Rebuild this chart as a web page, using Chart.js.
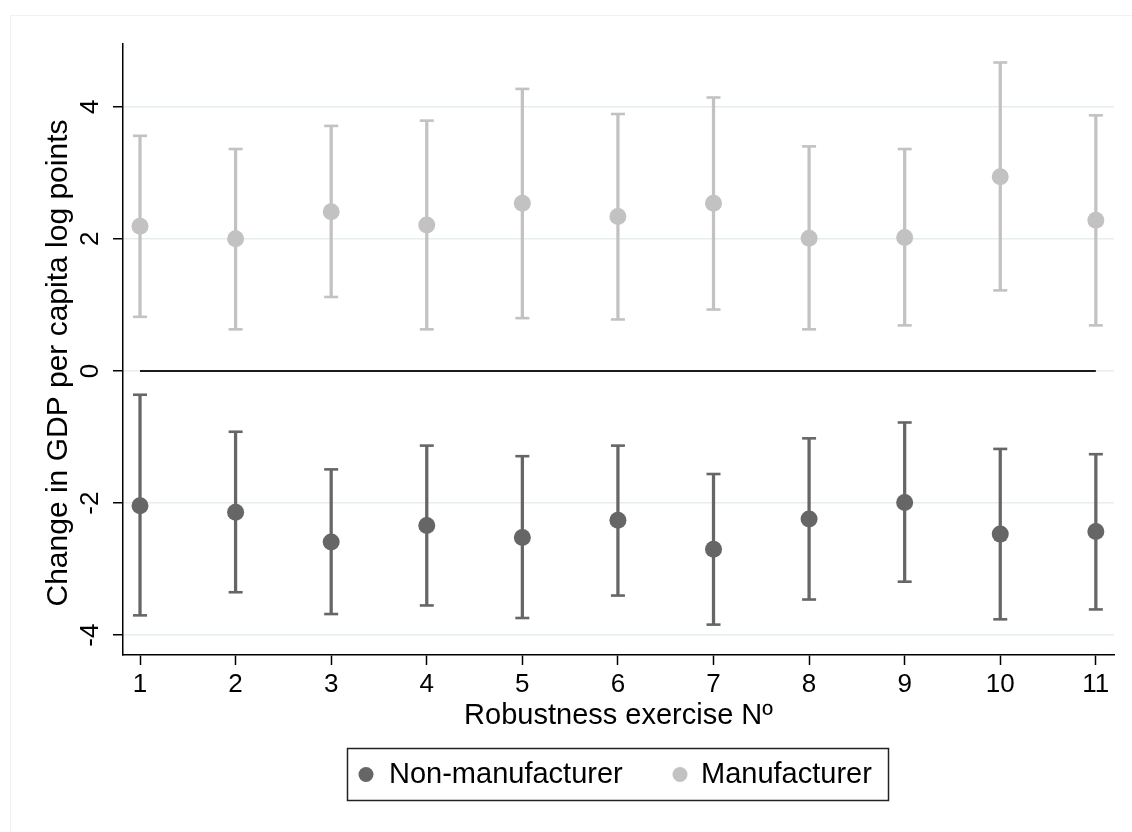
<!DOCTYPE html>
<html>
<head>
<meta charset="utf-8">
<title>Robustness exercises</title>
<script src="https://cdn.jsdelivr.net/npm/chart.js"></script>
<style>
  html, body { margin: 0; padding: 0; background: #fff; }
  canvas { display: block; }
</style>
</head>
<body>
<canvas id="robustChart" width="1132" height="832"></canvas>
<script>
// robustness exercises on the x axis
const exercise = [1, 2, 3, 4, 5, 6, 7, 8, 9, 10, 11];
const yTicks = [-4, -2, 0, 2, 4];

// manufacturer: point estimate and confidence band
const manuEst = [2.19, 2.00, 2.41, 2.21, 2.54, 2.34, 2.54, 2.01, 2.02, 2.94, 2.28];
const manuLo  = [0.82, 0.63, 1.12, 0.63, 0.80, 0.78, 0.93, 0.63, 0.69, 1.22, 0.69];
const manuHi  = [3.56, 3.36, 3.71, 3.79, 4.27, 3.89, 4.14, 3.40, 3.36, 4.67, 3.87];

// non-manufacturer
const nonEst = [-2.04, -2.14, -2.59, -2.34, -2.52, -2.26, -2.70, -2.24, -1.99, -2.47, -2.43];
const nonLo  = [-3.70, -3.35, -3.68, -3.55, -3.74, -3.40, -3.84, -3.46, -3.19, -3.76, -3.61];
const nonHi  = [-0.36, -0.92, -1.49, -1.13, -1.29, -1.13, -1.56, -1.02, -0.78, -1.18, -1.26];

const darkCol = '#666666';
const lightCol = '#c2c2c2';
const fontFam = "'Liberation Sans', Arial, Helvetica, sans-serif";
const yTitle = 'Change in GDP per capita log points';

Chart.defaults.font.family = fontFam;
Chart.defaults.color = '#000';

function points(est) {
  return exercise.map((x, i) => ({x: x, y: est[i]}));
}
function whiskers(lo, hi) {
  return exercise.map((x, i) => ({x: x, y: [lo[i], hi[i]]}));
}
function caps(lo, hi) {
  return exercise.flatMap((x, i) => [{x: x, y: lo[i]}, {x: x, y: hi[i]}]);
}

function bandSets(label, est, lo, hi, col) {
  return [
    { type: 'bar', label: label + ' ci', data: whiskers(lo, hi), backgroundColor: col,
      borderWidth: 0, barThickness: 2.6, grouped: false, order: 4 },
    { type: 'scatter', label: label + ' caps', data: caps(lo, hi), pointStyle: 'line',
      pointRadius: 7, borderColor: col, borderWidth: 2.6, order: 3 },
    { type: 'scatter', label: label, data: points(est), pointStyle: 'circle',
      pointRadius: 8.5, backgroundColor: col, borderWidth: 0, order: 1 }
  ];
}

// white page, faint outer frame, rotated y labels and the boxed legend
const decor = {
  id: 'decor',
  beforeDraw(chart) {
    const c = chart.ctx;
    c.save();
    c.fillStyle = '#fff';
    c.fillRect(0, 0, chart.width, chart.height);
    c.strokeStyle = '#f1f1f1';
    c.lineWidth = 1;
    c.beginPath();
    c.moveTo(10.5, chart.height);
    c.lineTo(10.5, 15.5);
    c.lineTo(chart.width, 15.5);
    c.stroke();
    c.restore();
  },
  afterDraw(chart) {
    const c = chart.ctx;
    const ys = chart.scales.y;
    c.save();
    c.fillStyle = '#000';
    c.font = '26px ' + fontFam;
    c.textAlign = 'center';
    c.textBaseline = 'alphabetic';
    yTicks.forEach(v => {
      c.save();
      c.translate(98, ys.getPixelForValue(v));
      c.rotate(-Math.PI / 2);
      c.fillText(String(v), 0, 0);
      c.restore();
    });

    c.font = '30px ' + fontFam;
    c.save();
    c.translate(67, 363);
    c.rotate(-Math.PI / 2);
    c.fillText(yTitle, 0, 0);
    c.restore();

    // legend
    c.font = '29px ' + fontFam;
    c.strokeStyle = '#222';
    c.lineWidth = 1.5;
    c.strokeRect(347.5, 748.5, 541, 52);
    const entries = [
      {label: 'Non-manufacturer', col: darkCol, mx: 366, tx: 389},
      {label: 'Manufacturer', col: lightCol, mx: 680, tx: 701}
    ];
    c.textAlign = 'left';
    c.textBaseline = 'middle';
    entries.forEach(e => {
      c.fillStyle = e.col;
      c.beginPath();
      c.arc(e.mx, 774.5, 7.5, 0, Math.PI * 2);
      c.fill();
      c.fillStyle = '#000';
      c.fillText(e.label, e.tx, 775);
    });
    c.restore();
  }
};

const ctx = document.getElementById('robustChart').getContext('2d');
const robustChart = new Chart(ctx, {
  type: 'scatter',
  data: {
    datasets: [
      { type: 'line', label: 'zero', data: [{x: exercise[0], y: 0}, {x: exercise[exercise.length - 1], y: 0}],
        borderColor: '#1c1c1c', borderWidth: 2, pointRadius: 0, fill: false, order: 5 },
      ...bandSets('Non-manufacturer', nonEst, nonLo, nonHi, darkCol),
      ...bandSets('Manufacturer', manuEst, manuLo, manuHi, lightCol)
    ]
  },
  plugins: [decor],
  options: {
    responsive: false,
    animation: false,
    events: [],
    layout: { padding: { left: 0, top: 44, right: 18, bottom: 0 } },
    plugins: {
      legend: { display: false },
      tooltip: { enabled: false }
    },
    scales: {
      x: {
        type: 'linear',
        offset: false,
        min: 0.822,
        max: 11.19,
        afterBuildTicks: s => { s.ticks = exercise.map(v => ({value: v})); },
        afterFit: s => { s.height = 177; },
        grid: { drawOnChartArea: false, drawTicks: true, tickLength: 10, tickColor: '#000', tickWidth: 1.5, offset: false },
        border: { color: '#000', width: 1.5 },
        ticks: { font: { size: 26 }, color: '#000', padding: 4, maxRotation: 0, autoSkip: false },
        title: { display: true, text: 'Robustness exercise Nº', font: { size: 29 }, color: '#000',
                 padding: { top: 0, bottom: 99 } }
      },
      y: {
        min: -4.3,
        max: 4.95,
        afterBuildTicks: s => { s.ticks = yTicks.map(v => ({value: v})); },
        afterFit: s => { s.width = 123; },
        grid: { color: '#e4edf0', lineWidth: 1.5, drawTicks: true, tickLength: 10, tickColor: '#000', tickWidth: 1.5 },
        border: { color: '#000', width: 1.5 },
        ticks: { display: false }
      }
    }
  }
});
</script>
</body>
</html>
